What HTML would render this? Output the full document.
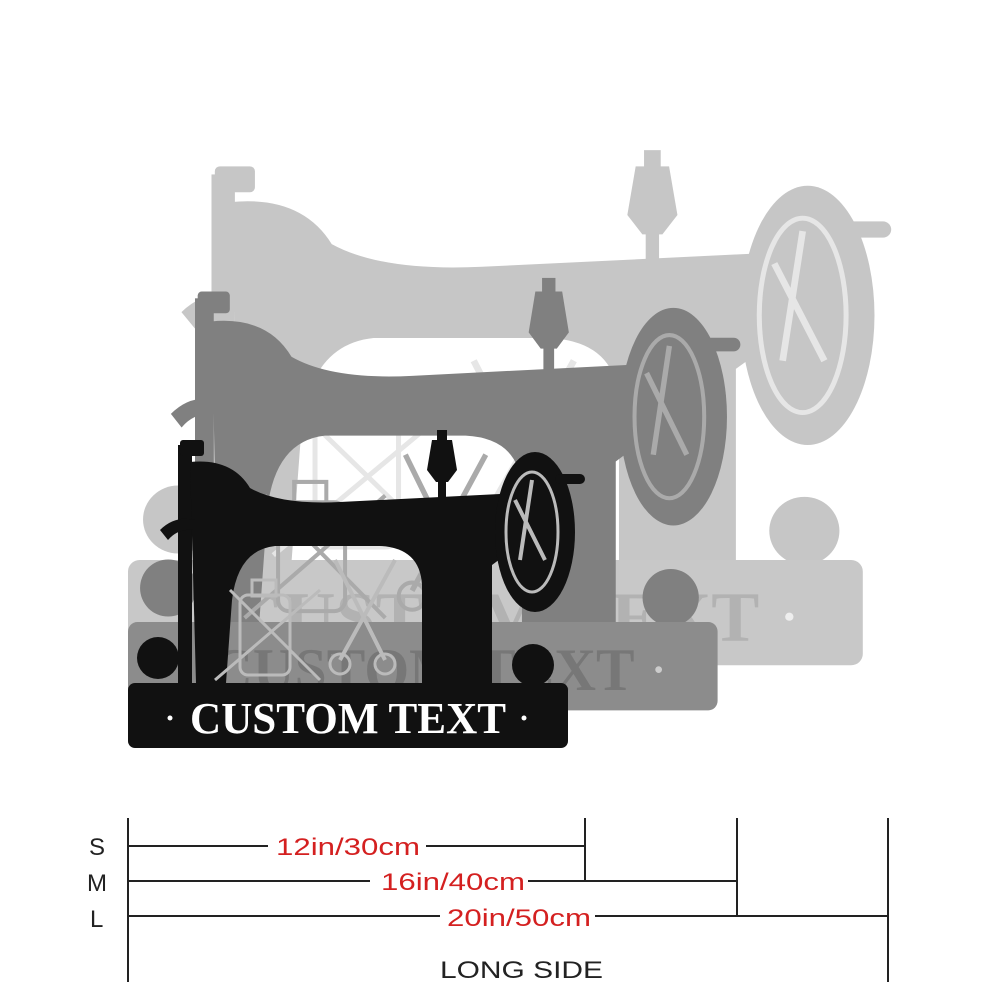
<!DOCTYPE html>
<html><head><meta charset="utf-8"><style>
html,body{margin:0;padding:0;background:#fff;width:1000px;height:1000px;overflow:hidden}
svg{display:block}
.b{fill:var(--b)} .p{fill:var(--p)} .t{fill:var(--t);font-family:"Liberation Serif",serif;font-weight:bold}
.w{fill:var(--w)} .s{stroke:var(--s);fill:none} .h{fill:var(--h)}
.sc{font-family:"Liberation Sans",Arial,sans-serif;font-size:24px}
</style></head><body>
<svg width="1000" height="1000" viewBox="0 0 1000 1000">
<defs>
<g id="m">
  <circle class="b" cx="158" cy="658" r="21"/>
  <circle class="b" cx="533" cy="665" r="21"/>
  <rect class="b" x="178" y="445" width="14" height="238"/>
  <rect class="b" x="180" y="440" width="24" height="16" rx="3"/>
  <path class="b" d="M190,462 Q232,458 250,488 Q280,505 340,502 L500,494 L515,548 L492,565 L492,683 L422,683 L422,585 Q420,548 380,546 L275,546 Q238,550 232,600 L226,683 L196,683 Z"/>
  <path class="b" d="M160,530 Q175,515 195,520 L195,530 Q178,528 168,540 Z"/>
  <path class="b" d="M432,440 L452,440 L457,470 L448,482 L436,482 L427,470 Z"/>
  <rect class="b" x="437" y="430" width="10" height="12"/>
  <rect class="b" x="438" y="480" width="8" height="18"/>
  <ellipse class="b" cx="535" cy="532" rx="40" ry="80"/>
  <ellipse class="s" cx="532" cy="532" rx="26" ry="60" stroke-width="3"/>
  <path class="s" d="M532,480 L520,560 M515,500 L545,560" stroke-width="4"/>
  <rect class="b" x="555" y="474" width="30" height="10" rx="5"/>
  <rect class="s" x="240" y="595" width="50" height="80" rx="8" stroke-width="3"/>
  <rect class="s" x="252" y="580" width="24" height="16" stroke-width="3"/>
  <path class="s" d="M215,680 L320,590 M230,590 L320,680" stroke-width="3"/>
  <path class="s" d="M335,560 L385,660 M395,560 L340,660" stroke-width="4"/>
  <circle class="s" cx="340" cy="664" r="10" stroke-width="3"/>
  <circle class="s" cx="385" cy="664" r="10" stroke-width="3"/>
  <rect class="p" x="128" y="683" width="440" height="65" rx="7"/>
  <text class="t" x="190" y="733" font-size="44" textLength="316" lengthAdjust="spacingAndGlyphs">CUSTOM TEXT</text>
  <circle class="h" cx="170" cy="718" r="2.5"/>
  <circle class="h" cx="524" cy="718" r="2.5"/>
</g>
</defs>
<use href="#m" transform="translate(128,560) scale(1.67,1.62) translate(-128,-683)" style="--b:#c6c6c6;--p:#c8c8c8;--t:#b2b2b2;--w:#c6c6c6;--s:#e6e6e6;--h:#eee"/>
<use href="#m" transform="translate(128,622) scale(1.34,1.36) translate(-128,-683)" style="--b:#808080;--p:#8c8c8c;--t:#777;--w:#555;--s:#aaa;--h:#ccc"/>
<use href="#m" style="--b:#111;--p:#111;--t:#fff;--w:#111;--s:#bbb;--h:#fff"/>

<g stroke="#222" stroke-width="2" fill="none">
  <line x1="128" y1="818" x2="128" y2="982"/>
  <line x1="585" y1="818" x2="585" y2="881"/>
  <line x1="737" y1="818" x2="737" y2="916"/>
  <line x1="888" y1="818" x2="888" y2="982"/>
  <line x1="128" y1="846" x2="268" y2="846"/><line x1="426" y1="846" x2="585" y2="846"/>
  <line x1="128" y1="881" x2="370" y2="881"/><line x1="528" y1="881" x2="737" y2="881"/>
  <line x1="128" y1="916" x2="440" y2="916"/><line x1="595" y1="916" x2="888" y2="916"/>
</g>
<g class="sc">
  <text x="89" y="855" fill="#222">S</text>
  <text x="87" y="891" fill="#222">M</text>
  <text x="90" y="927" fill="#222">L</text>
  <text x="276" y="855" fill="#d42020" textLength="144" lengthAdjust="spacingAndGlyphs">12in/30cm</text>
  <text x="381" y="890" fill="#d42020" textLength="144" lengthAdjust="spacingAndGlyphs">16in/40cm</text>
  <text x="447" y="926" fill="#d42020" textLength="144" lengthAdjust="spacingAndGlyphs">20in/50cm</text>
  <text x="440" y="978" fill="#222" textLength="163" lengthAdjust="spacingAndGlyphs">LONG SIDE</text>
</g>
</svg>
</body></html>
